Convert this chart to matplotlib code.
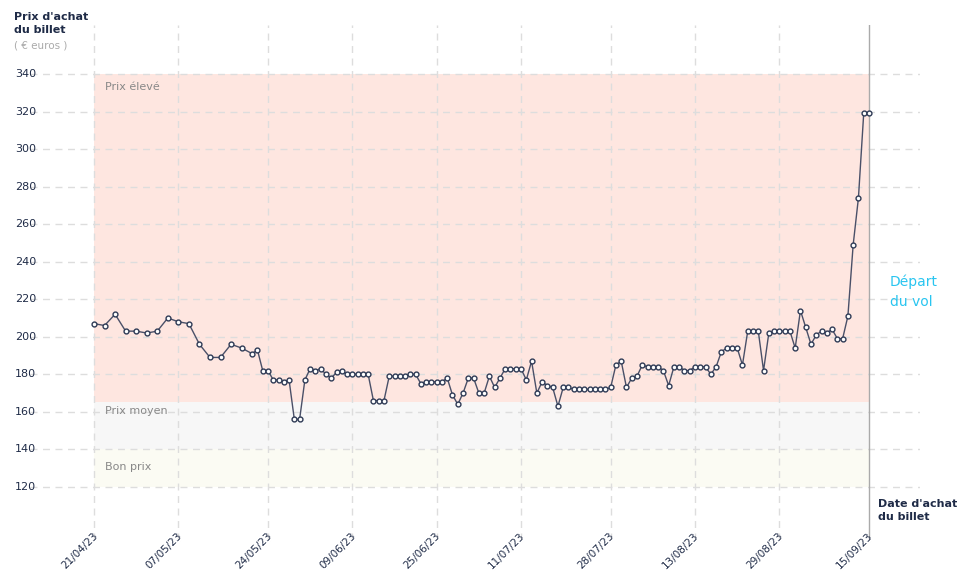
import matplotlib
matplotlib.use("Agg")
import matplotlib.pyplot as plt

day_offsets = list(range(0, 31, 2)) + list(range(31, 148))
prices = [207, 206, 212, 203, 203, 202, 203, 210, 208, 207, 196, 189, 189, 196, 194, 191,
          193, 182, 182, 177, 177, 176, 177, 156, 156, 177, 183, 182, 183,
          180, 178, 181, 182, 180, 180, 180, 180, 180,
          166, 166, 166, 179, 179, 179, 179, 180, 180, 175, 176, 176, 176, 176,
          178, 169, 164, 170, 178, 178, 170, 170, 179, 173, 178, 183, 183, 183, 183,
          177, 187, 170, 176, 174, 173, 163, 173, 173,
          172, 172, 172, 172, 172, 172, 172, 173, 185, 187, 173, 178, 179, 185,
          184, 184, 184, 182, 174, 184, 184, 182, 182, 184, 184, 184, 180, 184,
          192, 194, 194, 194, 185, 203, 203, 203, 182, 202, 203, 203, 203, 203,
          194, 214, 205, 196, 201, 203, 202, 204, 199, 199, 211, 249, 274, 319, 319]
tick_days = [0, 16, 33, 49, 65, 81, 98, 114, 130, 147]
tick_labels = ["21/04/23", "07/05/23", "24/05/23", "09/06/23", "25/06/23",
               "11/07/23", "28/07/23", "13/08/23", "29/08/23", "15/09/23"]
y_ticks = [120, 140, 160, 180, 200, 220, 240, 260, 280, 300, 320, 340]

W, H = 958, 585
fig = plt.figure(figsize=(W/100, H/100), dpi=100)
ax = fig.add_axes([30/W, 1-540/H, 890/W, 515/H])
ax.set_xlim((30-94)/5.272, (920-94)/5.272)
ax.set_ylim(340-(540-74)/1.877, 340-(25-74)/1.877)
ax.axis("off")

navy = "#1f2b47"
ax.fill_between([0, 147], 165, 340, color="#fee6e0", lw=0, zorder=0)
ax.fill_between([0, 147], 140, 165, color="#f7f7f7", lw=0, zorder=0)
ax.fill_between([0, 147], 120, 140, color="#fbfbf3", lw=0, zorder=0)

for v in y_ticks:
    ax.axhline(v, color="#dddddd", lw=1, ls=(0, (5, 4)), zorder=1)
    ax.text(-15, v, str(v), color=navy, fontsize=8, ha="left", va="center", clip_on=False)
for d, lab in zip(tick_days, tick_labels):
    if d != 147:
        ax.axvline(d, color="#dddddd", lw=1, ls=(0, (5, 4)), zorder=1)
    ax.text(d + 0.4, 95, lab, rotation=45, ha="right", va="center", color=navy, fontsize=7.5,
            rotation_mode="anchor", clip_on=False)
ax.axvline(147, color="#aaaaaa", lw=1, zorder=2)

ax.plot(day_offsets, prices, color="#4a5068", lw=1, marker="o", ms=3.5,
        mfc="white", mec="#2e3a55", mew=1, zorder=4)

ax.text(2, 333, "Prix élevé", color="#888888", fontsize=8, va="center")
ax.text(2, 160.5, "Prix moyen", color="#888888", fontsize=8, va="center")
ax.text(2, 130.5, "Bon prix", color="#888888", fontsize=8, va="center")
ax.text(151, 224, "Départ\ndu vol", color="#29c5f0", fontsize=10, va="center",
        linespacing=1.6)

fig.text(14/W, 1-12/H, "Prix d'achat\ndu billet", color=navy, fontsize=8,
         fontweight="bold", va="top", linespacing=1.4)
fig.text(14/W, 1-41/H, "( € euros )", color="#aaaaaa", fontsize=7.5, va="top")
fig.text(878/W, 1-499/H, "Date d'achat\ndu billet", color=navy, fontsize=8,
         fontweight="bold", va="top", linespacing=1.4)

fig.savefig("out.png", dpi=100)
